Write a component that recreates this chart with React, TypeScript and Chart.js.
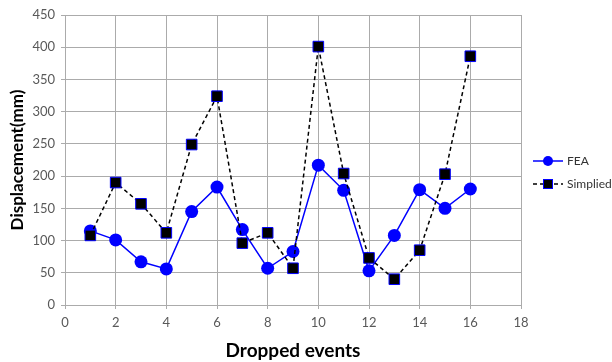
import React, { useEffect, useRef } from "react";
import { Chart, registerables } from "chart.js";

Chart.register(...registerables);

const events = [1, 2, 3, 4, 5, 6, 7, 8, 9, 10, 11, 12, 13, 14, 15, 16];
const feaValues = [115, 101, 67, 56, 145, 183, 117, 57, 83, 217, 178, 53, 108, 179, 150, 180];
const simpliedValues = [108, 190, 157, 112, 249, 324, 96, 112, 57, 401, 204, 73, 40, 85, 203, 386];
const xTicks = [0, 2, 4, 6, 8, 10, 12, 14, 16, 18];
const yTicks = [0, 50, 100, 150, 200, 250, 300, 350, 400, 450];
const seriesNames = ["FEA", "Simplied"];

const FONT = "Lato, 'Liberation Sans', sans-serif";

const legendPlugin = {
  id: "customLegend",
  afterDraw(chart: any) {
    const { ctx, chartArea } = chart;
    const x0 = chartArea.right + 12;
    const rows = [
      { y: 161, name: seriesNames[0], dash: [] as number[], color: "#0000ff", marker: "circle" },
      { y: 184, name: seriesNames[1], dash: [4, 3], color: "#000000", marker: "rect" },
    ];
    ctx.save();
    rows.forEach((r) => {
      ctx.beginPath();
      ctx.setLineDash(r.dash);
      ctx.strokeStyle = r.color;
      ctx.lineWidth = 1.5;
      ctx.moveTo(x0, r.y);
      ctx.lineTo(x0 + 30, r.y);
      ctx.stroke();
      ctx.setLineDash([]);
      if (r.marker === "circle") {
        ctx.beginPath();
        ctx.fillStyle = "#0000ff";
        ctx.arc(x0 + 15, r.y, 5, 0, Math.PI * 2);
        ctx.fill();
      } else {
        ctx.fillStyle = "#000000";
        ctx.strokeStyle = "#0000ff";
        ctx.lineWidth = 1;
        ctx.fillRect(x0 + 10.5, r.y - 4.5, 9, 9);
        ctx.strokeRect(x0 + 10.5, r.y - 4.5, 9, 9);
      }
      ctx.fillStyle = "#333333";
      ctx.font = "12px " + FONT;
      ctx.textBaseline = "middle";
      ctx.textAlign = "left";
      ctx.fillText(r.name, x0 + 34, r.y);
    });
    ctx.restore();
  },
};

export default function App() {
  const ref = useRef<HTMLCanvasElement>(null);
  useEffect(() => {
    if (!ref.current) return;
    const chart = new Chart(ref.current, {
      type: "line",
      data: {
        datasets: [
          {
            label: seriesNames[0],
            data: events.map((e, i) => ({ x: e, y: feaValues[i] })),
            borderColor: "#0000ff",
            backgroundColor: "#0000ff",
            borderWidth: 1.5,
            pointStyle: "circle",
            pointRadius: 6.5,
            pointBorderWidth: 0,
            pointBackgroundColor: "#0000ff",
            order: 2,
          },
          {
            label: seriesNames[1],
            data: events.map((e, i) => ({ x: e, y: simpliedValues[i] })),
            borderColor: "#000000",
            borderDash: [4, 3],
            borderWidth: 1.5,
            pointStyle: "rect",
            pointRadius: 7.5,
            pointBorderWidth: 1,
            pointBackgroundColor: "#000000",
            pointBorderColor: "#0000ff",
            order: 1,
          },
        ],
      },
      options: {
        animation: false,
        responsive: true,
        maintainAspectRatio: false,
        layout: { padding: { top: 15, right: 91, left: 0, bottom: 0 } },
        plugins: { legend: { display: false }, tooltip: { enabled: false } },
        scales: {
          x: {
            type: "linear",
            min: 0,
            max: 18,
            afterBuildTicks: (s: any) => {
              s.ticks = xTicks.map((v) => ({ value: v }));
            },
            afterFit: (s: any) => {
              s.height = 57;
            },
            grid: { color: "#ababab", tickLength: 4, lineWidth: 1 },
            border: { color: "#ababab" },
            ticks: { color: "#595959", font: { family: FONT, size: 13 }, padding: 6, maxRotation: 0 },
            title: {
              display: true,
              text: "Dropped events",
              color: "#000000",
              font: { family: FONT, size: 19, weight: "bold" },
              padding: { top: 0, bottom: 0 },
            },
          },
          y: {
            min: 0,
            max: 450,
            afterBuildTicks: (s: any) => {
              s.ticks = yTicks.map((v) => ({ value: v }));
            },
            afterFit: (s: any) => {
              s.width = 65;
            },
            grid: { color: "#ababab", tickLength: 4, lineWidth: 1 },
            border: { color: "#ababab" },
            ticks: { color: "#595959", font: { family: FONT, size: 13 }, padding: 6 },
            title: {
              display: true,
              text: "Displacement(mm)",
              color: "#000000",
              font: { family: FONT, size: 17, weight: "bold" },
              padding: { top: 7, bottom: 0 },
            },
          },
        },
      },
      plugins: [legendPlugin],
    });
    return () => chart.destroy();
  }, []);
  return (
    <div style={{ position: "fixed", left: 0, top: 0, width: 612, height: 362, background: "#fff" }}>
      <canvas ref={ref} />
    </div>
  );
}
